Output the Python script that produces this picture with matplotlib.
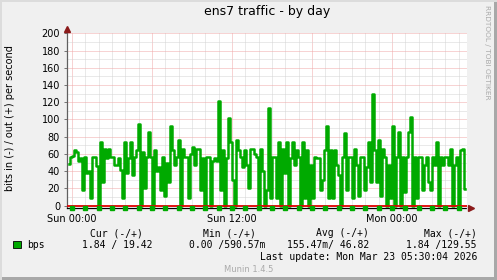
import numpy as np
import matplotlib
matplotlib.use("Agg")
import matplotlib.pyplot as plt
from matplotlib.patches import Rectangle

# outbound bits per second, one sample every 9 minutes
out_part1 = [48, 57, 58, 65, 62, 52, 55, 18, 57, 38, 40, 9, 56, 56, 46, 0, 74, 28, 66, 55,
             66, 57, 57, 47, 47, 55, 41, 9, 74, 38, 55, 74, 36, 57, 65, 95, 0, 62, 20, 57,
             85, 57, 0, 65, 40, 45, 18, 57, 11, 49, 28]
out_part2 = [93, 65, 47, 56, 76, 0, 66, 57, 57, 9, 60, 68, 47, 66, 66, 18, 55, 0, 57, 57,
             0, 52, 55, 52, 121, 18, 65, 0, 55, 102, 74, 30, 0, 76, 65, 57, 45, 65, 47, 20,
             66, 66, 60, 57, 0, 66, 40, 0, 18, 113]
out_part3 = [9, 57, 57, 9, 74, 0, 66, 38, 74, 0, 55, 74, 47, 65, 57, 0, 74, 9, 65, 0,
             47, 9, 57, 55, 55, 18, 30, 65, 93, 9, 65, 9, 65, 47, 36, 0, 56, 84, 18, 56,
             56, 9, 66, 47, 11, 56, 56, 18, 45, 74]
out_part4 = [28, 129.55, 65, 28, 76, 11, 66, 56, 0, 47, 9, 93, 0, 57, 86, 0, 56, 16, 56, 86,
             103, 0, 56, 9, 56, 56, 18, 47, 56, 28, 18, 56, 47, 74, 0, 56, 47, 56, 56, 47,
             66, 0, 47, 56, 0, 65, 66, 19.42]
out_bps = np.array(out_part1 + out_part2 + out_part3 + out_part4)

# hours relative to Sun 00:00
t_start = -0.225
t_step = 0.15
hours = t_start + t_step * np.arange(len(out_bps))

x_ticks = [0, 12, 24]
x_labels = ["Sun 00:00", "Sun 12:00", "Mon 00:00"]
y_ticks = list(range(0, 201, 20))

W, H = 497, 280
fig = plt.figure(figsize=(W / 100, H / 100), dpi=100)
fig.patch.set_facecolor("#F0F0F0")

# frame of the rrdtool image
fig.add_artist(Rectangle((0, 0), 1, 3 / H, transform=fig.transFigure, color="#A8A8A8", lw=0))
fig.add_artist(Rectangle((1 - 3 / W, 0), 3 / W, 1, transform=fig.transFigure, color="#A8A8A8", lw=0))
fig.add_artist(Rectangle((0, 1 - 2 / H), 1, 2 / H, transform=fig.transFigure, color="#DCDCDC", lw=0))
fig.add_artist(Rectangle((0, 0), 2 / W, 1, transform=fig.transFigure, color="#DCDCDC", lw=0))

ax_left, ax_right, ax_top, ax_bot = 67, 467, 33.3, 207.5
ax = fig.add_axes([ax_left / W, 1 - ax_bot / H, (ax_right - ax_left) / W, (ax_bot - ax_top) / H])
ax.set_facecolor("white")

ax.set_xlim(-0.375, 29.625)
ax.set_ylim(-2.1, 200)

dots = (0, (1, 1))
for h in range(0, 30):
    col = "#F0A8A8" if h % 6 == 0 else "#D4D4D4"
    ax.axvline(h, color=col, lw=0.72, ls=dots, zorder=1)
for v in range(0, 201, 10):
    col = "#F0A8A8" if v % 20 == 0 else "#D4D4D4"
    ax.axhline(v, color=col, lw=0.72, ls=dots, zorder=1)

ax.plot(hours, out_bps, color="#00AA00", lw=1.8, drawstyle="steps-mid", zorder=3)
ax.axhline(0, color="#E00000", lw=1.3, zorder=4)

for s in ["top", "right"]:
    ax.spines[s].set_visible(False)
ax.spines["left"].set_color("#606060")
ax.spines["left"].set_linewidth(0.9)
ax.spines["bottom"].set_color("black")
ax.spines["bottom"].set_linewidth(0.9)
ax.spines["bottom"].set_linestyle(dots)

# hour marks on the time axis
ax.plot(np.arange(0, 30), np.full(30, -2.1), ls="none", marker="s", ms=2.6,
        color="#00AA00", clip_on=False, zorder=5)

# axis arrows
ax.plot([-0.375], [205], marker="^", ms=4, color="#8B1A1A", clip_on=False, zorder=6)
ax.plot([29.9], [-2.1], marker=">", ms=4, color="#8B1A1A", clip_on=False, zorder=6)

ax.set_xticks(x_ticks)
ax.set_xticklabels(x_labels)
ax.set_yticks(y_ticks)
ax.tick_params(axis="x", length=0, pad=5, labelsize=7, colors="black")
ax.tick_params(axis="y", length=2, width=0.6, pad=3, labelsize=7, color="#606060", labelcolor="black")

fig.text(0.5 * (ax_left + ax_right) / W, 1 - 12 / H, "ens7 traffic - by day",
         ha="center", va="center", fontsize=9)
fig.text(10 / W, 1 - 118 / H, "bits in (-) / out (+) per second",
         rotation=90, ha="center", va="center", fontsize=7)
fig.text(487 / W, 1 - 5 / H, "RRDTOOL / TOBI OETIKER", rotation=270,
         ha="center", va="top", fontsize=5.3, color="#AAAAAA")

mono = dict(family="DejaVu Sans Mono", fontsize=7, va="center")
row1, row2, row3 = 233, 245, 257
fig.text(143 / W, 1 - row1 / H, "Cur (-/+)", ha="right", **mono)
fig.text(256 / W, 1 - row1 / H, "Min (-/+)", ha="right", **mono)
fig.text(369 / W, 1 - row1 / H, "Avg (-/+)", ha="right", **mono)
fig.text(477 / W, 1 - row1 / H, "Max (-/+)", ha="right", **mono)

fig.add_artist(Rectangle((13 / W, 1 - 248 / H), 8 / W, 7 / H, transform=fig.transFigure,
                         facecolor="#00AA00", edgecolor="black", lw=0.6))
fig.text(27 / W, 1 - row2 / H, "bps", ha="left", **mono)
fig.text(152 / W, 1 - row2 / H, "1.84 / 19.42", ha="right", **mono)
fig.text(265 / W, 1 - row2 / H, "0.00 /590.57m", ha="right", **mono)
fig.text(369 / W, 1 - row2 / H, "155.47m/ 46.82", ha="right", **mono)
fig.text(477 / W, 1 - row2 / H, "1.84 /129.55", ha="right", **mono)
fig.text(477 / W, 1 - row3 / H, "Last update: Mon Mar 23 05:30:04 2026", ha="right", **mono)

fig.text(224 / W, 1 - 269 / H, "Munin 1.4.5", ha="left", va="center",
         fontsize=6, color="#AAAAAA")

fig.savefig("out.png", dpi=100, facecolor=fig.get_facecolor())
